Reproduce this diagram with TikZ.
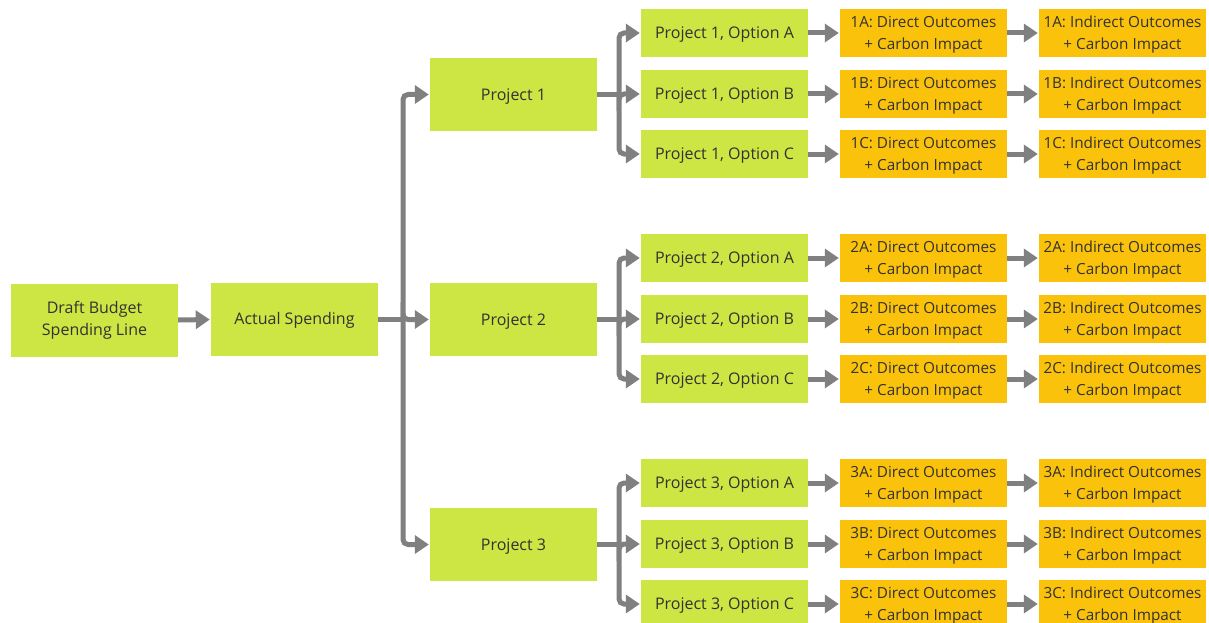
\documentclass[tikz,border=0pt]{standalone}
\usepackage{fontspec}
\setmainfont{Open Sans}
\usetikzlibrary{arrows.meta}
\definecolor{grn}{RGB}{205,230,67}
\definecolor{org}{RGB}{251,194,11}
\definecolor{txt}{RGB}{50,50,50}
\definecolor{ln}{RGB}{128,128,128}
\begin{document}
\begin{tikzpicture}[x=1pt,y=-1pt,
  box/.style={minimum width=167pt, minimum height=73pt, fill=grn, inner sep=0pt},
  lbl/.style={text=txt, align=center, inner sep=0pt, yshift=-2pt, font=\fontsize{16}{22.5}\selectfont},
  olbl/.style={lbl, font=\fontsize{15.3}{22}\selectfont},
  opt/.style={box, minimum height=48pt},
  outc/.style={opt, fill=org},
  wire/.style={draw=ln, line width=5pt, rounded corners=5pt},
  conn/.style={wire, -{Triangle[length=14pt,width=18pt]}, shorten >=1pt},
]
\useasboundingbox (0,0) rectangle (1209,623);
\node[box, label={[lbl, yshift=1.5pt]center:{Draft Budget\\Spending Line}}] (db) at (94.5,320) {};
\node[box, label={[lbl, yshift=1pt]center:{Actual Spending}}] (as) at (294.5,319.5) {};
\draw[conn] (db.east) -- (as.west);
\coordinate (J) at (403,319.5);
\draw[wire] (as.east) -- (J);
\foreach \p/\y in {1/94.5,2/319.5,3/544.5} {
  \node[box, label={[lbl]center:{Project \p}}] (p\p) at (513.5,\y) {};
  \draw[conn] (J) |- (p\p.west);
  \coordinate (j\p) at (619,\y);
  \draw[wire] (p\p.east) -- (j\p);
  \foreach \o/\dy in {A/-61.5,B/-0.5,C/59.5} {
    \node[opt, label={[lbl]center:{Project \p, Option \o}}] (o\p\o) at (724.5,\y+\dy) {};
    \node[outc, label={[olbl]center:{\p\o: Direct Outcomes\\+ Carbon Impact}}] (d\p\o) at (923.5,\y+\dy) {};
    \node[outc, label={[olbl]center:{\p\o: Indirect Outcomes\\+ Carbon Impact}}] (i\p\o) at (1122.5,\y+\dy) {};
    \draw[conn] (j\p) |- (o\p\o.west);
    \draw[conn] (o\p\o.east) -- (d\p\o.west);
    \draw[conn] (d\p\o.east) -- (i\p\o.west);
  }
}
\end{tikzpicture}
\end{document}
